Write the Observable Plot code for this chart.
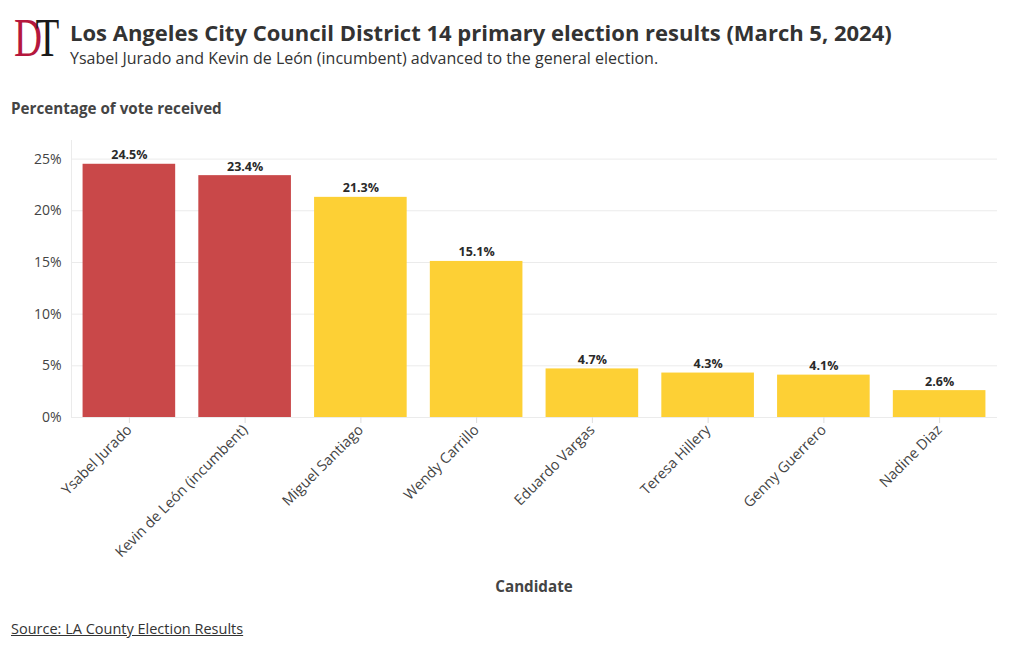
<!DOCTYPE html>
<html>
<head>
<meta charset="utf-8">
<script src="https://cdn.jsdelivr.net/npm/d3@7"></script>
<script src="https://cdn.jsdelivr.net/npm/@observablehq/plot@0.6"></script>
<style>
  html, body { margin: 0; padding: 0; background: #fff; }
  body { width: 1020px; height: 650px; position: relative; overflow: hidden; font-family: "Open Sans", sans-serif; color: #333; }
  .abs { position: absolute; white-space: nowrap; z-index: 2; }
  #logo { left: 14px; top: 10px; font-family: "Liberation Serif", "DejaVu Serif", serif; font-size: 54px; line-height: 56px; letter-spacing: -9px; transform: scaleX(0.72); transform-origin: left top; }
  #title { left: 70px; top: 19px; font-size: 22px; font-weight: 700; color: #333; line-height: 26px; }
  #subtitle { left: 70px; top: 48px; font-size: 16px; color: #333; line-height: 20px; }
  #ylabel { left: 11px; top: 98px; font-size: 15.2px; font-weight: 700; color: #444; }
  #xlabel { left: 534px; top: 576px; font-size: 15.2px; font-weight: 700; color: #444; transform: translateX(-50%); }
  #source { left: 11px; top: 619px; font-size: 14.5px; color: #333; text-decoration: underline; }
  #chart { position: absolute; left: 0; top: 90px; z-index: 1; }
</style>
</head>
<body>
<div id="logo" class="abs"><span style="color:#b5173d">D</span><span style="color:#1a1a1a">T</span></div>
<div id="title" class="abs">Los Angeles City Council District 14 primary election results (March 5, 2024)</div>
<div id="subtitle" class="abs">Ysabel Jurado and Kevin de León (incumbent) advanced to the general election.</div>
<div id="ylabel" class="abs">Percentage of vote received</div>
<div id="xlabel" class="abs">Candidate</div>
<div id="source" class="abs">Source: LA County Election Results</div>
<div id="chart"></div>
<script>
const candidates = ["Ysabel Jurado", "Kevin de León (incumbent)", "Miguel Santiago", "Wendy Carrillo", "Eduardo Vargas", "Teresa Hillery", "Genny Guerrero", "Nadine Diaz"];
const percents = [24.5, 23.4, 21.3, 15.1, 4.7, 4.3, 4.1, 2.6];
const advanced = [true, true, false, false, false, false, false, false];
const yTicks = [0, 5, 10, 15, 20, 25];

const data = candidates.map((c, i) => ({candidate: c, pct: percents[i], adv: advanced[i]}));

const chart = Plot.plot({
  width: 1020,
  height: 510,
  marginLeft: 71,
  marginRight: 23,
  marginTop: 50,
  marginBottom: 183,
  style: { fontFamily: "Open Sans, sans-serif", fontSize: "14px", color: "#444", background: "transparent" },
  x: { domain: candidates, paddingInner: 0.2, paddingOuter: 0.1, round: false, label: null },
  y: { domain: [0, 26.8], label: null },
  marks: [
    Plot.gridY(yTicks, { stroke: "#ebebeb", strokeOpacity: 1 }),
    Plot.frame({ anchor: "left", stroke: "#ebebeb" }),
    Plot.barY(data, { x: "candidate", y: "pct", fill: d => d.adv ? "#c94849" : "#fdd035" }),
    Plot.text(data, { x: "candidate", y: "pct", text: d => d.pct.toFixed(1) + "%", dy: -9, fontWeight: 700, fontSize: 12.5, fill: "#2a2a2a" }),
    Plot.axisY({ ticks: yTicks, tickFormat: d => d + "%", tickSize: 0, tickPadding: 10, fontSize: 14, fill: "#444", label: null }),
    Plot.axisX({ tickSize: 6, stroke: "#ddd", tickRotate: -45, tickPadding: 4, fontSize: 14.5, fill: "#444", label: null, textAnchor: "end" })
  ]
});
document.getElementById("chart").appendChild(chart);
</script>
</body>
</html>
